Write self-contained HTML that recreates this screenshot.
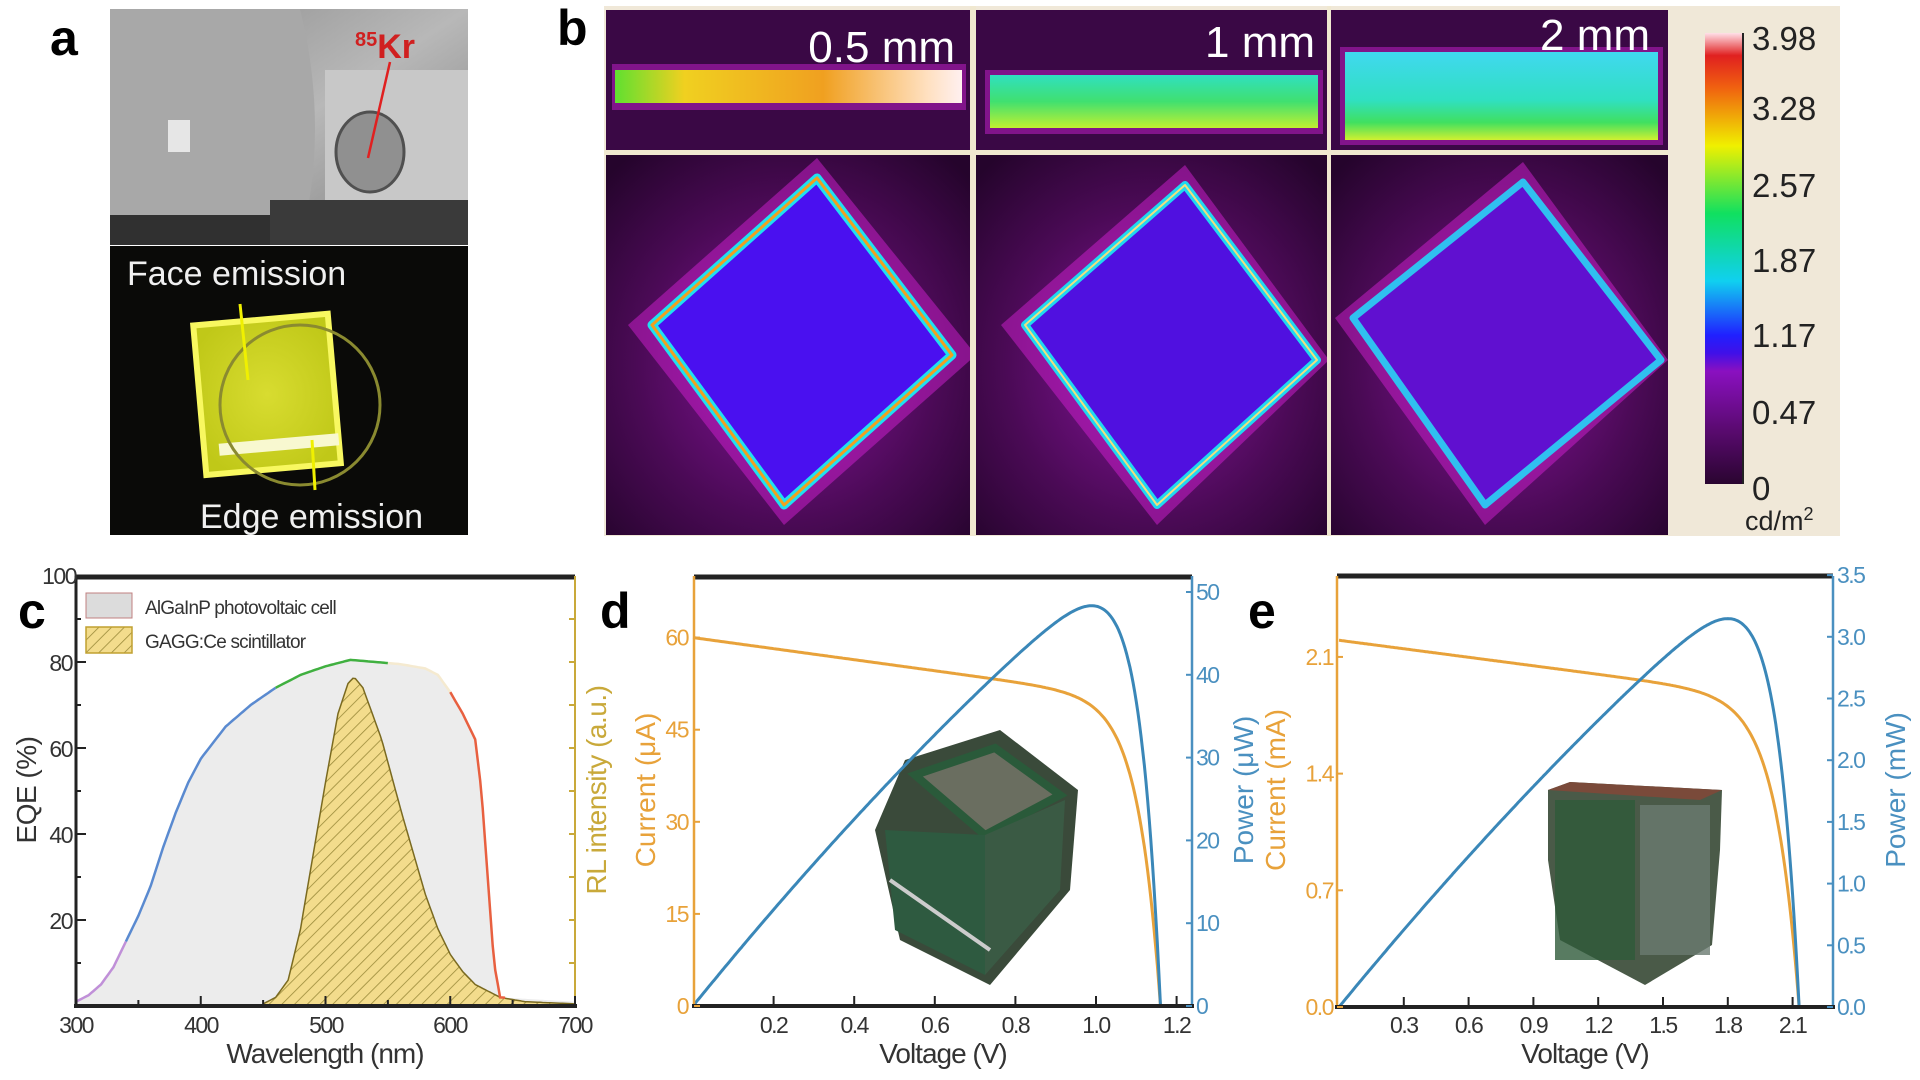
<!DOCTYPE html>
<html><head><meta charset="utf-8"><style>
html,body{margin:0;padding:0;background:#fff;width:1920px;height:1080px;overflow:hidden}
svg{display:block}
text{font-family:"Liberation Sans",Arial,sans-serif}
</style></head><body>
<svg id="s" width="1920" height="1080" viewBox="0 0 1920 1080" xmlns="http://www.w3.org/2000/svg">
<defs>
<pattern id="hatch" width="9" height="9" patternUnits="userSpaceOnUse" patternTransform="rotate(45)">
<rect width="9" height="9" fill="#f3dc8c"/><line x1="0" y1="0" x2="0" y2="9" stroke="#9a8a3a" stroke-width="1.6"/></pattern>
<linearGradient id="cb" x1="0" y1="1" x2="0" y2="0">
<stop offset="0" stop-color="#2a0530"/><stop offset="0.12" stop-color="#5a0a70"/><stop offset="0.25" stop-color="#8a10c0"/><stop offset="0.29" stop-color="#4010e8"/><stop offset="0.33" stop-color="#2020ff"/><stop offset="0.45" stop-color="#10d0f0"/><stop offset="0.6" stop-color="#10e060"/><stop offset="0.75" stop-color="#f0f000"/><stop offset="0.88" stop-color="#f06010"/><stop offset="0.95" stop-color="#e02020"/><stop offset="1" stop-color="#ffe0e8"/></linearGradient>
<radialGradient id="bgp" cx="0.5" cy="0.55" r="0.7"><stop offset="0" stop-color="#8a14a0"/><stop offset="0.6" stop-color="#4a0a55"/><stop offset="1" stop-color="#25042c"/></radialGradient>
<linearGradient id="s1" x1="0" x2="1"><stop offset="0" stop-color="#60e030"/><stop offset="0.2" stop-color="#f0d020"/><stop offset="0.6" stop-color="#f0a020"/><stop offset="0.9" stop-color="#ffe0c0"/><stop offset="1" stop-color="#fff0f0"/></linearGradient>
<linearGradient id="s2" x1="0" y1="0" x2="0" y2="1"><stop offset="0" stop-color="#30e0c0"/><stop offset="0.5" stop-color="#40e070"/><stop offset="1" stop-color="#c0f030"/></linearGradient>
<linearGradient id="s3" x1="0" y1="0" x2="0" y2="1"><stop offset="0" stop-color="#40d8f0"/><stop offset="0.55" stop-color="#30e0c0"/><stop offset="0.8" stop-color="#40e060"/><stop offset="1" stop-color="#d0f030"/></linearGradient>
<linearGradient id="gray" x1="0" y1="0" x2="1" y2="1"><stop offset="0" stop-color="#8a8a8a"/><stop offset="0.5" stop-color="#b8b8b8"/><stop offset="1" stop-color="#7a7a7a"/></linearGradient>
<radialGradient id="yel" cx="0.5" cy="0.5" r="0.6"><stop offset="0" stop-color="#d8dc30"/><stop offset="1" stop-color="#c0c818"/></radialGradient>
</defs>

<!-- Panel a -->
<text x="50" y="55" font-size="50" font-weight="bold">a</text>
<rect x="110" y="9" width="358" height="236" fill="url(#gray)"/>
<path d="M110 9 L300 9 Q330 130 300 245 L110 245Z" fill="#a8a8a8"/>
<rect x="110" y="215" width="190" height="30" fill="#303030"/>
<rect x="325" y="70" width="143" height="175" fill="#c8c8c8"/>
<rect x="270" y="200" width="198" height="45" fill="#3a3a3a"/>
<rect x="168" y="120" width="22" height="32" fill="#e6e6e6"/>
<ellipse cx="370" cy="152" rx="34" ry="40" fill="#909090" stroke="#505050" stroke-width="3"/>
<line x1="390" y1="62" x2="368" y2="158" stroke="#e02020" stroke-width="2.5"/>
<text x="355" y="58" font-size="34" font-weight="bold" fill="#d02020"><tspan font-size="20" dy="-12">85</tspan><tspan dy="12">Kr</tspan></text>
<rect x="110" y="246" width="358" height="289" fill="#0a0a08"/>
<g transform="rotate(-5 260 400)"><rect x="200" y="320" width="135" height="150" fill="url(#yel)" stroke="#f8f860" stroke-width="6"/>
<rect x="215" y="440" width="120" height="12" fill="#f8f8d0"/></g>
<ellipse cx="300" cy="405" rx="80" ry="80" fill="none" stroke="#8a8a30" stroke-width="3"/>
<line x1="248" y1="380" x2="240" y2="304" stroke="#f0f000" stroke-width="3"/>
<line x1="312" y1="440" x2="315" y2="490" stroke="#f0f000" stroke-width="3"/>
<text x="127" y="285" font-size="34" fill="#f0f0f0">Face emission</text>
<text x="200" y="528" font-size="34" fill="#f0f0f0">Edge emission</text>

<!-- Panel b -->
<text x="557" y="45" font-size="50" font-weight="bold">b</text>
<rect x="604" y="6" width="1236" height="530" fill="#f0e8d8"/>
<g>
<rect x="606" y="10" width="364" height="140" fill="#3a0845"/>
<rect x="976" y="10" width="351" height="140" fill="#3a0845"/>
<rect x="1331" y="10" width="337" height="140" fill="#3a0845"/>
<rect x="606" y="155" width="364" height="380" fill="url(#bgp)"/>
<rect x="976" y="155" width="351" height="380" fill="url(#bgp)"/>
<rect x="1331" y="155" width="337" height="380" fill="url(#bgp)"/>
<rect x="612" y="64" width="354" height="46" fill="#a01aa8" opacity="0.7"/>
<rect x="615" y="70" width="347" height="33" fill="url(#s1)"/>
<rect x="985" y="70" width="338" height="64" fill="#a01aa8" opacity="0.7"/>
<rect x="990" y="75" width="328" height="53" fill="url(#s2)"/>
<rect x="1340" y="47" width="323" height="98" fill="#a01aa8" opacity="0.7"/>
<rect x="1345" y="52" width="313" height="88" fill="url(#s3)"/>
<text x="955" y="62" font-size="44" fill="#fff" text-anchor="end">0.5 mm</text>
<text x="1315" y="57" font-size="44" fill="#fff" text-anchor="end">1 mm</text>
<text x="1650" y="50" font-size="44" fill="#fff" text-anchor="end">2 mm</text>
<g stroke-linejoin="round">
<polygon points="817,158 628,325 784,525 976,355" fill="#d020d0" opacity="0.5"/>
<polygon points="817,178 652,325 784,505 952,355" fill="#4a10f0" stroke="#20e0f0" stroke-width="9"/>
<polygon points="817,178 652,325 784,505 952,355" fill="none" stroke="#f0a020" stroke-width="3"/>
<polygon points="1185,165 1001,325 1157,525 1329,360" fill="#d020d0" opacity="0.5"/>
<polygon points="1185,185 1025,325 1157,505 1317,360" fill="#5010e0" stroke="#20d8f0" stroke-width="8"/>
<polygon points="1185,185 1025,325 1157,505 1317,360" fill="none" stroke="#f0e080" stroke-width="2"/>
<polygon points="1523,162 1335,318 1485,525 1668,360" fill="#d020d0" opacity="0.5"/>
<polygon points="1523,182 1353,318 1485,505 1661,360" fill="#6010d0" stroke="#30c0f0" stroke-width="7"/>
</g>
<rect x="970" y="6" width="6" height="530" fill="#f0e8d0"/>
<rect x="1327" y="6" width="4" height="530" fill="#f0e8d0"/>
<rect x="604" y="150" width="1064" height="5" fill="#f0e8d0"/>
</g>
<rect x="1705" y="33" width="38" height="451" fill="url(#cb)"/>
<line x1="1743" y1="33" x2="1743" y2="484" stroke="#222" stroke-width="2"/>
<g font-size="33" fill="#222">
<text x="1752" y="50">3.98</text><text x="1752" y="120">3.28</text><text x="1752" y="197">2.57</text>
<text x="1752" y="272">1.87</text><text x="1752" y="347">1.17</text><text x="1752" y="424">0.47</text>
<text x="1752" y="500">0</text><text x="1745" y="530" font-size="27">cd/m<tspan font-size="18" dy="-10">2</tspan></text>
</g>

<!-- Panel c -->
<text x="18" y="628" font-size="50" font-weight="bold">c</text>
<rect x="76" y="576" width="499" height="430" fill="#fff"/>
<g id="cplot"></g>
<line x1="76" y1="577" x2="575" y2="577" stroke="#222" stroke-width="5"/>
<line x1="76" y1="576" x2="76" y2="1008" stroke="#222" stroke-width="3"/>
<line x1="575" y1="576" x2="575" y2="1006" stroke="#c9a93a" stroke-width="2"/>
<line x1="74" y1="1006" x2="577" y2="1006" stroke="#222" stroke-width="4"/>
<g id="cticks" stroke="#222" stroke-width="2"></g>
<rect x="86" y="593" width="46" height="25" fill="#dcdcdc" stroke="#c08080" stroke-width="1"/>
<rect x="86" y="627" width="46" height="26" fill="url(#hatch)" stroke="#c0a030" stroke-width="1.5"/>
<text x="145" y="614" font-size="19" fill="#333" letter-spacing="-0.8">AlGaInP photovoltaic cell</text>
<text x="145" y="648" font-size="19" fill="#333" letter-spacing="-0.8">GAGG:Ce scintillator</text>
<g font-size="23" fill="#333" letter-spacing="-1.5">
<text x="76" y="584" text-anchor="end">100</text><text x="72" y="671" text-anchor="end">80</text>
<text x="72" y="757" text-anchor="end">60</text><text x="72" y="843" text-anchor="end">40</text>
<text x="72" y="929" text-anchor="end">20</text>
<text x="76" y="1033" text-anchor="middle">300</text><text x="201" y="1033" text-anchor="middle">400</text>
<text x="326" y="1033" text-anchor="middle">500</text><text x="450" y="1033" text-anchor="middle">600</text>
<text x="575" y="1033" text-anchor="middle">700</text>
</g>
<text x="325" y="1063" font-size="28" fill="#333" text-anchor="middle" letter-spacing="-1">Wavelength (nm)</text>
<text transform="translate(36 790) rotate(-90)" font-size="28" fill="#333" text-anchor="middle" letter-spacing="-0.5">EQE (%)</text>
<text transform="translate(606 790) rotate(-90)" font-size="28" fill="#c9a93a" text-anchor="middle" letter-spacing="-0.5">RL intensity (a.u.)</text>

<!-- Panel d -->
<text x="600" y="628" font-size="50" font-weight="bold">d</text>
<g id="dinset">
<polygon points="905,760 1000,730 1078,790 1070,890 990,985 900,940 875,830" fill="#3a4a3a"/>
<polygon points="915,775 995,748 1060,795 985,835" fill="#6a6e60" stroke="#2a5a3a" stroke-width="8"/>
<polygon points="885,830 985,835 985,975 895,930" fill="#2e5a40"/>
<polygon points="985,835 1065,800 1060,890 985,975" fill="#3a5a44"/>
<line x1="890" y1="880" x2="990" y2="950" stroke="#ccc" stroke-width="4"/>
</g>
<g id="dplot"></g>
<line x1="694" y1="577" x2="1192" y2="577" stroke="#222" stroke-width="5"/>
<line x1="694" y1="576" x2="694" y2="1006" stroke="#e8a23a" stroke-width="2.5"/>
<line x1="1192" y1="576" x2="1192" y2="1006" stroke="#4a90c0" stroke-width="2.5"/>
<line x1="692" y1="1006" x2="1194" y2="1006" stroke="#222" stroke-width="4"/>
<g id="dticks"></g>
<text x="943" y="1063" font-size="28" fill="#333" text-anchor="middle" letter-spacing="-1">Voltage (V)</text>
<text transform="translate(655 790) rotate(-90)" font-size="28" fill="#e8a23a" text-anchor="middle">Current (μA)</text>
<text transform="translate(1253 790) rotate(-90)" font-size="28" fill="#4a90c0" text-anchor="middle">Power (μW)</text>

<!-- Panel e -->
<text x="1248" y="628" font-size="50" font-weight="bold">e</text>
<g id="einset">
<polygon points="1548,790 1570,782 1722,790 1720,850 1712,945 1645,985 1560,940 1548,860" fill="#4a5a48"/>
<polygon points="1548,790 1570,782 1722,790 1700,800" fill="#7a4a3a"/>
<rect x="1555" y="800" width="80" height="160" fill="#2e5a3a" opacity="0.8"/>
<rect x="1640" y="805" width="70" height="150" fill="#6a7a70" opacity="0.8"/>
</g>
<g id="eplot"></g>
<line x1="1337" y1="576" x2="1833" y2="576" stroke="#222" stroke-width="5"/>
<line x1="1337" y1="576" x2="1337" y2="1008" stroke="#e8a23a" stroke-width="2.5"/>
<line x1="1833" y1="576" x2="1833" y2="1008" stroke="#4a90c0" stroke-width="2.5"/>
<line x1="1335" y1="1007" x2="1835" y2="1007" stroke="#222" stroke-width="4"/>
<g id="eticks"></g>
<text x="1585" y="1063" font-size="28" fill="#333" text-anchor="middle" letter-spacing="-1">Voltage (V)</text>
<text transform="translate(1285 790) rotate(-90)" font-size="28" fill="#e8a23a" text-anchor="middle">Current (mA)</text>
<text transform="translate(1905 790) rotate(-90)" font-size="28" fill="#4a90c0" text-anchor="middle">Power (mW)</text>
</svg>
<script>
const NS="http://www.w3.org/2000/svg";
function el(p,t,a,txt){const e=document.createElementNS(NS,t);for(const k in a)e.setAttribute(k,a[k]);if(txt!==undefined)e.textContent=txt;document.getElementById(p).appendChild(e);return e;}
function interp(pts,x){for(let i=0;i<pts.length-1;i++){if(x>=pts[i][0]&&x<=pts[i+1][0]){const t=(x-pts[i][0])/(pts[i+1][0]-pts[i][0]);return pts[i][1]+t*(pts[i+1][1]-pts[i][1]);}}return pts[pts.length-1][1];}
const cx=w=>76+(w-300)*499/400, cy=e=>1006-e*4.3;
const eqe=[[300,1],[310,2.5],[320,5],[330,9],[340,15],[350,21],[360,28],[370,37],[380,45],[390,52],[400,57.5],[420,65],[440,70],[460,74],[480,77],[500,79],[520,80.5],[540,80],[560,79.5],[580,78.5],[590,77],[600,73],[610,68],[620,62],[625,50],[630,30],[635,10],[640,2],[700,1]];
const gagg=[[450,0.5],[460,2],[470,6],[480,18],[490,35],[500,52],[510,68],[518,75],[523,76.5],[530,74],[545,62],[560,46],[570,36],[580,26],[590,18],[600,12],[610,8],[620,5],[640,2],[660,1],[700,0.5]];
let d="M"+cx(300)+" 1006";for(let w=300;w<=700;w+=2)d+=" L"+cx(w).toFixed(1)+" "+cy(interp(eqe,w)).toFixed(1);d+=" L575 1006Z";
el("cplot","path",{d:d,fill:"#ececec"});
d="M"+cx(450)+" 1006";for(let w=450;w<=700;w+=2)d+=" L"+cx(w).toFixed(1)+" "+cy(interp(gagg,w)).toFixed(1);d+=" L575 1006Z";
el("cplot","path",{d:d,fill:"url(#hatch)",stroke:"#7a6a20","stroke-width":1.5});
const segs=[[300,340,"#c090d8"],[340,460,"#5a8ad0"],[460,550,"#40b040"],[550,600,"#f5ead0"],[600,645,"#e86040"]];
for(const s of segs){let p="";for(let w=s[0];w<=s[1];w+=2)p+=(p?" L":"M")+cx(w).toFixed(1)+" "+cy(interp(eqe,w)).toFixed(1);el("cplot","path",{d:p,fill:"none",stroke:s[2],"stroke-width":2.5});}
for(let w=300;w<=700;w+=50)el("cticks","line",{x1:cx(w),y1:1006,x2:cx(w),y2:w%100?1000:996});
for(let e=10;e<100;e+=10)el("cticks","line",{x1:76,y1:cy(e),x2:e%20?81:86,y2:cy(e)});
for(let i=1;i<10;i++)el("cticks","line",{x1:575,y1:576+i*43,x2:569,y2:576+i*43,stroke:"#c9a93a"});
const dx=v=>693+v*403, dyI=i=>1006-i*6.14, dyP=p=>1006-p*8.28;
let pi="",pp="";
for(let v=0;v<=1.161;v+=0.004){let I=60-9*v-3.44e-8*(Math.exp(v/0.055)-1);if(I<0)I=0;pi+=(pi?" L":"M")+dx(v).toFixed(1)+" "+dyI(I).toFixed(1);pp+=(pp?" L":"M")+dx(v).toFixed(1)+" "+dyP(I*v).toFixed(1);}
el("dplot","path",{d:pi,fill:"none",stroke:"#e8a23a","stroke-width":3});
el("dplot","path",{d:pp,fill:"none",stroke:"#3a87b8","stroke-width":3});
for(let k=1;k<=6;k++){const v=k*0.2;el("dticks","line",{x1:dx(v),y1:1006,x2:dx(v),y2:996,stroke:"#222","stroke-width":2});el("dticks","text",{x:dx(v),y:1033,"font-size":23,fill:"#333","text-anchor":"middle","letter-spacing":-1.5},v.toFixed(1));}
for(let k=0;k<=4;k++){const I=k*15;el("dticks","line",{x1:694,y1:dyI(I),x2:700,y2:dyI(I),stroke:"#e8a23a","stroke-width":2});el("dticks","text",{x:688,y:dyI(I)+8,"font-size":23,fill:"#e8a23a","text-anchor":"end","letter-spacing":-1.5},I);}
for(let k=0;k<=5;k++){const P=k*10;el("dticks","line",{x1:1192,y1:dyP(P),x2:1186,y2:dyP(P),stroke:"#4a90c0","stroke-width":2});el("dticks","text",{x:1196,y:dyP(P)+8,"font-size":23,fill:"#4a90c0","letter-spacing":-1.5},P);}
const ex=v=>1339+v*216, eyI=i=>1007-i*166.7, eyP=p=>1007-p*123.4;
pi="";pp="";
for(let v=0;v<=2.131;v+=0.006){let I=2.2-0.17*v-7.15e-9*(Math.exp(v/0.11)-1);if(I<0)I=0;pi+=(pi?" L":"M")+ex(v).toFixed(1)+" "+eyI(I).toFixed(1);pp+=(pp?" L":"M")+ex(v).toFixed(1)+" "+eyP(I*v*0.97).toFixed(1);}
el("eplot","path",{d:pi,fill:"none",stroke:"#e8a23a","stroke-width":3});
el("eplot","path",{d:pp,fill:"none",stroke:"#3a87b8","stroke-width":3});
for(let k=1;k<=7;k++){const v=k*0.3;el("eticks","line",{x1:ex(v),y1:1007,x2:ex(v),y2:997,stroke:"#222","stroke-width":2});el("eticks","text",{x:ex(v),y:1033,"font-size":23,fill:"#333","text-anchor":"middle","letter-spacing":-1.5},v.toFixed(1));}
for(let k=0;k<=3;k++){const I=k*0.7;el("eticks","line",{x1:1337,y1:eyI(I),x2:1343,y2:eyI(I),stroke:"#e8a23a","stroke-width":2});el("eticks","text",{x:1333,y:eyI(I)+8,"font-size":23,fill:"#e8a23a","text-anchor":"end","letter-spacing":-1.5},I.toFixed(1));}
for(let k=0;k<=7;k++){const P=k*0.5;el("eticks","line",{x1:1833,y1:eyP(P),x2:1827,y2:eyP(P),stroke:"#4a90c0","stroke-width":2});el("eticks","text",{x:1837,y:eyP(P)+8,"font-size":23,fill:"#4a90c0","letter-spacing":-1.5},P.toFixed(1));}
</script>
</body></html>
